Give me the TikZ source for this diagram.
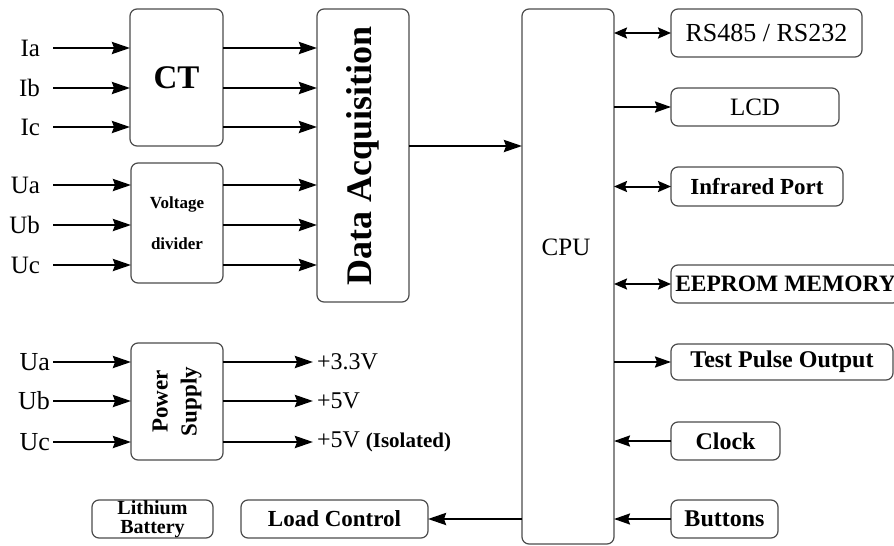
\documentclass[tikz,border=0pt]{standalone}
\usepackage{fontspec}
\setmainfont{Liberation Serif}
\usetikzlibrary{arrows.meta}
\newcommand{\fsz}[1]{\rmfamily\fontsize{#1}{#1}\selectfont}
\begin{document}
\begin{tikzpicture}[x=1pt,y=-1pt,
  box/.style={draw=black!70, line width=1.2pt, rounded corners=7pt, inner sep=0pt, outer sep=0pt, align=center},
  sig/.style={line width=2.6pt, -{Stealth[length=18pt,width=12pt,inset=2pt]}},
  sigr/.style={line width=2pt, -{Stealth[length=16pt,width=11pt,inset=2pt]}},
  bid/.style={line width=2pt, {Stealth[length=13pt,width=11pt,inset=2pt]}-{Stealth[length=13pt,width=11pt,inset=2pt]}},
  inlab/.style={anchor=east, inner sep=0pt, outer xsep=13pt, font=\fsz{25}},
  pslab/.style={anchor=east, inner sep=0pt, outer xsep=3pt, font=\fsz{26}},
  outlab/.style={anchor=west, inner sep=0pt, outer xsep=4pt, font=\fsz{24}}
]
\useasboundingbox[fill=white] (0,0) rectangle (894,546);

% ---- blocks
\node[box, minimum width=93pt, minimum height=137pt, font=\fsz{33}\bfseries] (CT) at (176.5,77.5) {CT};
\node[box, minimum width=92pt, minimum height=120pt, font=\fsz{17}\bfseries] (VD) at (177,223) {Voltage\\[24pt]divider};
\node[box, minimum width=92pt, minimum height=293pt] (DA) at (363,155.5) {};
\node[rotate=90, font=\fsz{36}\bfseries, inner sep=0pt] (DAt) at (DA) {Data Acquisition};
\node[box, minimum width=92pt, minimum height=117pt] (PS) at (177,401.5) {};
\node[rotate=90, font=\fsz{23}\bfseries, align=center, inner sep=0pt] (PSt) at (PS) {Power\\[6pt]Supply};
\node[box, minimum width=121pt, minimum height=38pt, font=\fsz{20}\bfseries] (LB) at (152.5,519) {Lithium\\[-1pt]Battery};
\node[box, minimum width=187pt, minimum height=38pt, font=\fsz{23}\bfseries] (LC) at (334.5,519) {Load Control};
\node[box, minimum width=92pt, minimum height=535pt] (CPU) at (568,276.5) {};
\node[font=\fsz{25}, inner sep=0pt] (CPUt) at (566,247) {CPU};

\node[box, minimum width=191pt, minimum height=48pt, font=\fsz{26}] (RS) at (766.5,33) {RS485 / RS232};
\node[box, minimum width=168pt, minimum height=38pt, font=\fsz{25}] (LCD) at (755,107) {LCD};
\node[box, minimum width=172pt, minimum height=39pt, font=\fsz{23}\bfseries] (IR) at (757,186.5) {Infrared Port};
\node[box, minimum width=229pt, minimum height=38pt, font=\fsz{23.5}\bfseries] (EE) at (785.5,284) {EEPROM MEMORY};
\node[box, minimum width=222pt, minimum height=36pt, font=\fsz{24}\bfseries] (TP) at (782,362) {Test Pulse Output};
\node[box, minimum width=109pt, minimum height=38pt, font=\fsz{24}\bfseries] (CL) at (725.5,441) {Clock};
\node[box, minimum width=107pt, minimum height=38pt, font=\fsz{24}\bfseries] (BT) at (724.5,519) {Buttons};

% ---- input labels
\node[inlab] (Ia) at (53,48) {Ia};
\node[inlab] (Ib) at (53,88) {Ib};
\node[inlab] (Ic) at (53,127) {Ic};
\node[inlab] (Ua) at (53,185) {Ua};
\node[inlab] (Ub) at (53,225) {Ub};
\node[inlab] (Uc) at (53,265) {Uc};
\node[pslab] (Pa) at (53,362) {Ua};
\node[pslab] (Pb) at (53,401) {Ub};
\node[pslab] (Pc) at (53,442) {Uc};

% ---- output labels of power supply
\node[outlab] (V33) at (313,362) {+3.3V};
\node[outlab] (V5) at (313,401) {+5V};
\node[outlab] (V5i) at (313,442) {+5V {\fsz{21}\bfseries(Isolated)}};

% ---- connectors, left
\foreach \n in {Ia,Ib,Ic} {
  \draw[sig] (\n.east) -- (\n -| CT.west);
  \draw[sig] (\n -| CT.east) -- (\n -| DA.west);
}
\foreach \n in {Ua,Ub,Uc} {
  \draw[sig] (\n.east) -- (\n -| VD.west);
  \draw[sig] (\n -| VD.east) -- (\n -| DA.west);
}
\foreach \n in {Pa,Pb,Pc} \draw[sig] (\n.east) -- (\n -| PS.west);
\foreach \n in {V33,V5,V5i} \draw[sig] (\n -| PS.east) -- (\n.west);

\coordinate (daout) at (409,146);
\draw[sig] (daout) -- (daout -| CPU.west);
\draw[sig] (LC -| CPU.west) -- (LC.east);

% ---- connectors, right
\draw[bid] (RS.west -| CPU.east) -- (RS.west);
\draw[sigr] (LCD.west -| CPU.east) -- (LCD.west);
\draw[bid] (IR.west -| CPU.east) -- (IR.west);
\draw[bid] (EE.west -| CPU.east) -- (EE.west);
\draw[sigr] (TP.west -| CPU.east) -- (TP.west);
\draw[sigr] (CL.west) -- (CL.west -| CPU.east);
\draw[sigr] (BT.west) -- (BT.west -| CPU.east);
\end{tikzpicture}
\end{document}
